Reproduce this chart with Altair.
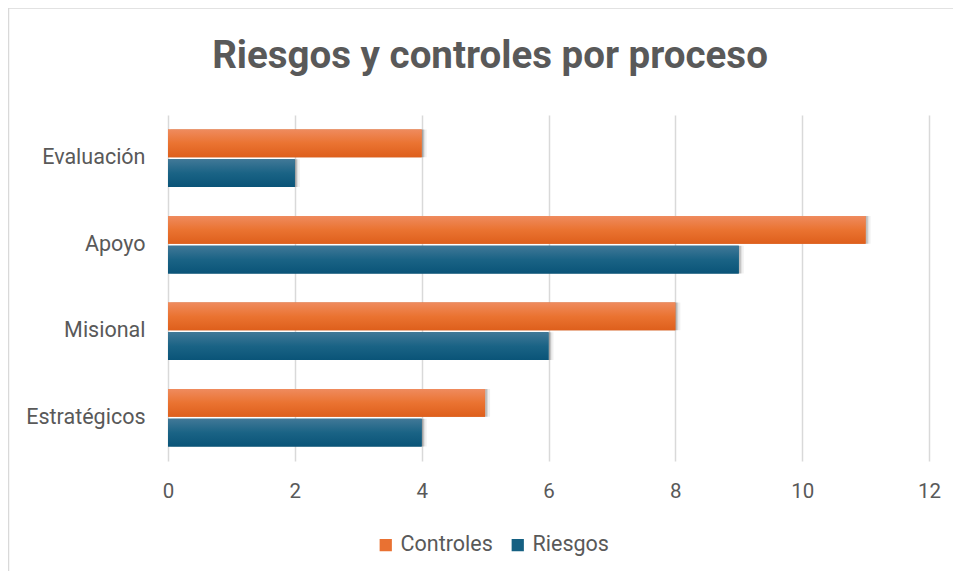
import altair as alt
import pandas as pd

categories = ["Evaluación", "Apoyo", "Misional", "Estratégicos"]
series = ["Controles", "Riesgos"]
controles = [4, 11, 8, 5]
riesgos = [2, 9, 6, 4]
x_ticks = [0, 2, 4, 6, 8, 10, 12]
title_text = "Riesgos y controles por proceso"

rows = []
for c, a, b in zip(categories, controles, riesgos):
    rows.append({"Proceso": c, "Serie": "Controles", "Valor": a})
    rows.append({"Proceso": c, "Serie": "Riesgos", "Valor": b})
df = pd.DataFrame(rows)

FONT = "Roboto"
GRAY = "#595959"
ORANGE = "#E97132"
BLUE = "#156082"

y_scale = alt.Scale(domain=categories, paddingInner=0.335, paddingOuter=0.1675)
y_enc = alt.Y("Proceso:N", sort=categories, title=None, scale=y_scale)
yo_enc = alt.YOffset("Serie:N", scale=alt.Scale(domain=series, paddingInner=0.07, paddingOuter=0))
x_enc = alt.X("Valor:Q", title=None,
              scale=alt.Scale(domain=[0, 12], nice=False),
              axis=alt.Axis(values=x_ticks, grid=True, gridColor="#D9D9D9", gridWidth=1.5,
                            domain=False, ticks=False, labelPadding=20, labelFontSize=20.5,
                            labelFlush=False, labelColor=GRAY, labelFont=FONT))

base = alt.Chart(df)
one = alt.Chart(pd.DataFrame({"t": [title_text]}))

border = one.mark_rect(filled=False, stroke="#D9D9D9", strokeWidth=1.5).encode(
    x=alt.value(-159.5), x2=alt.value(900), y=alt.value(-107), y2=alt.value(600))

title = one.mark_text(font=FONT, fontSize=38.5, fontWeight="bold", color=GRAY,
                      align="center", baseline="alphabetic").encode(
    text="t:N", x=alt.value(322), y=alt.value(-47))

def shadow(dx, dy, op):
    return base.mark_bar(color="black", opacity=op, xOffset=dx, x2Offset=dx,
                         yOffset=dy, y2Offset=dy).encode(
        y=y_enc, yOffset=yo_enc, x=x_enc)

solid = base.mark_bar().encode(
    y=alt.Y("Proceso:N", sort=categories, title=None, scale=y_scale,
            axis=alt.Axis(domain=False, ticks=False, labelPadding=23, labelFontSize=21.5,
                          labelColor=GRAY, labelFont=FONT)),
    yOffset=yo_enc,
    x=x_enc,
    color=alt.Color("Serie:N", scale=alt.Scale(domain=series, range=[ORANGE, BLUE]),
                    legend=alt.Legend(title=None, orient="none", direction="horizontal",
                                      legendX=207, legendY=419, symbolType="square",
                                      symbolSize=150, symbolStrokeWidth=0,
                                      labelFontSize=21.5, labelColor=GRAY, labelFont=FONT,
                                      columnPadding=14, labelOffset=4)),
)

def grad(c0, c1, c2):
    return alt.Gradient(gradient="linear", x1=0, x2=0, y1=0, y2=1,
                        stops=[alt.GradientStop(color=c0, offset=0),
                               alt.GradientStop(color=c1, offset=0.5),
                               alt.GradientStop(color=c2, offset=1)])

g_or = base.transform_filter(alt.datum.Serie == "Controles").mark_bar(
    color=grad("#EF8B5E", "#EA7331", "#DE5F1C")).encode(y=y_enc, yOffset=yo_enc, x=x_enc)
g_bl = base.transform_filter(alt.datum.Serie == "Riesgos").mark_bar(
    color=grad("#417897", "#1A6385", "#0A5478")).encode(y=y_enc, yOffset=yo_enc, x=x_enc)

chart = alt.layer(border, title, shadow(5, 6, 0.06), shadow(3, 4, 0.09), shadow(2, 2, 0.12),
                  solid, g_or, g_bl).properties(
    width=761, height=346,
    autosize=alt.AutoSizeParams(type="none"),
    padding={"left": 160, "top": 107, "right": 24, "bottom": 110},
).configure_view(stroke=None)

chart.save("out.html", embed_options={"renderer": "svg", "actions": False})
